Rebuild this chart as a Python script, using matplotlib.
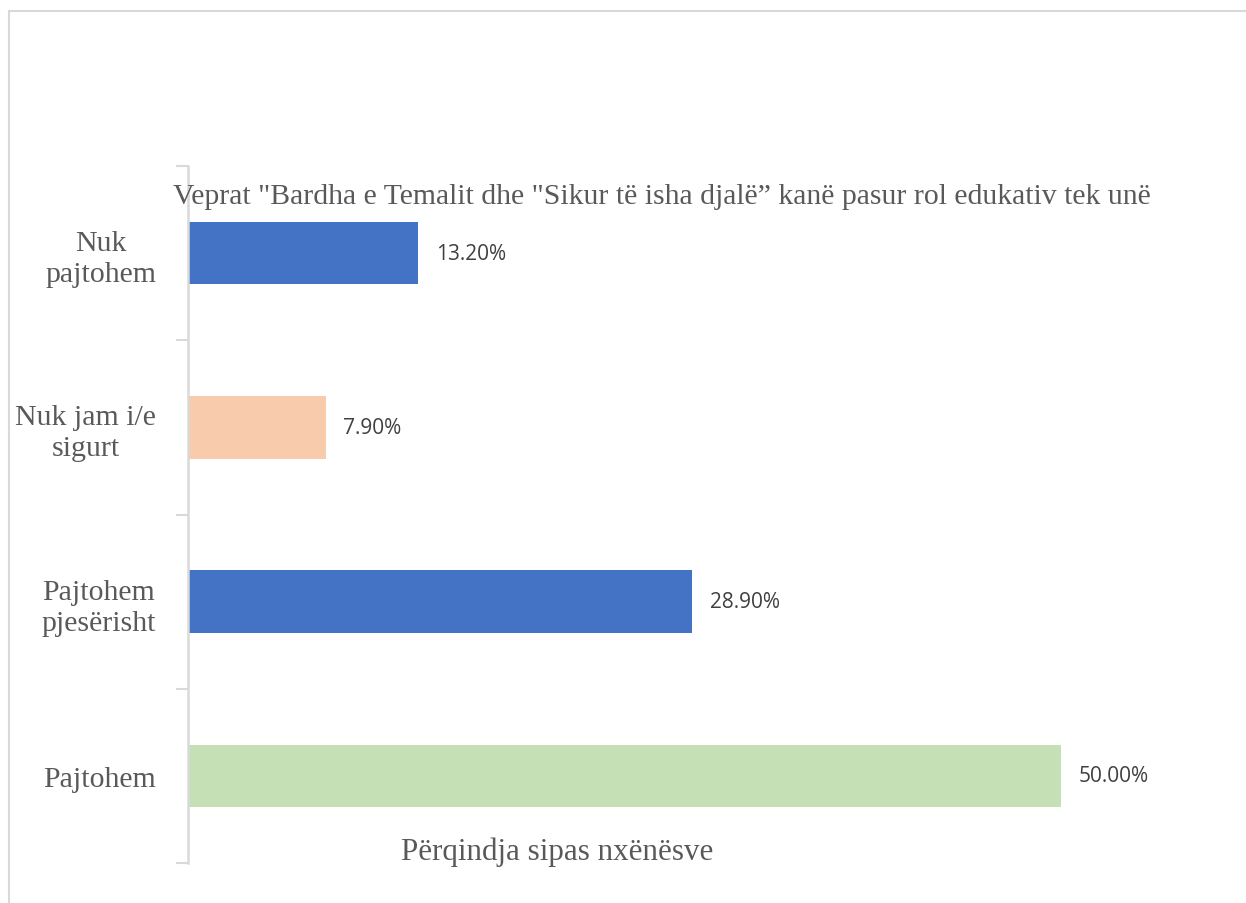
import matplotlib.pyplot as plt
from matplotlib.patches import Rectangle

# survey answers, drawn bottom to top
categories = ["Pajtohem", "Pajtohem\npjesërisht", "Nuk jam i/e\nsigurt", "Nuk\npajtohem"]
values = [50.0, 28.9, 7.9, 13.2]
colors = ["#C5E0B4", "#4472C4", "#F8CBAD", "#4472C4"]

title = 'Veprat "Bardha e Temalit dhe "Sikur të isha djalë\u201d kanë pasur rol edukativ tek unë'
xlabel = "Përqindja sipas nxënësve"

serif = "Liberation Serif"
grey = "#595959"

fig = plt.figure(figsize=(12.46, 9.04), dpi=100)

# light frame around the chart area
fig.patches.append(Rectangle((9 / 1246, -0.1), 1.2, (904 - 12) / 904 + 0.1,
                             transform=fig.transFigure, fill=False,
                             edgecolor="#d9d9d9", linewidth=1.5))

ax = fig.add_axes([188 / 1246, 1 - 864 / 904, 960 / 1246, (864 - 167) / 904])

y = list(range(len(categories)))
ax.barh(y, values, height=0.36, color=colors)
ax.set_xlim(0, 55)
ax.set_ylim(-0.5, len(categories) - 0.5)

for yi, v in zip(y, values):
    ax.text(v + 1.0, yi, f"{v:.2f}%", va="center", ha="left",
            fontsize=15, family="Open Sans", color="#404040")

for side in ["top", "right", "bottom"]:
    ax.spines[side].set_visible(False)
ax.spines["left"].set_color("#d9d9d9")
ax.spines["left"].set_linewidth(1.8)

ax.set_xticks([])
ax.set_yticks([i - 0.5 for i in range(len(categories) + 1)], minor=False)
ax.set_yticklabels([])
ax.tick_params(axis="y", length=9, width=1.5, color="#d9d9d9")
ax.set_yticks(y, minor=True)
ax.set_yticklabels(categories, minor=True, family=serif, fontsize=21.5,
                   color=grey, ha="right", multialignment="center",
                   linespacing=1.25)
ax.tick_params(axis="y", which="minor", length=0, pad=23)

fig.text(662 / 1246, 1 - 197 / 904, title, ha="center", va="center",
         family=serif, fontsize=21.4, color=grey)
fig.text(557 / 1246, 1 - 852 / 904, xlabel, ha="center", va="center",
         family=serif, fontsize=22.3, color=grey)

fig.savefig("out.png", dpi=100)
